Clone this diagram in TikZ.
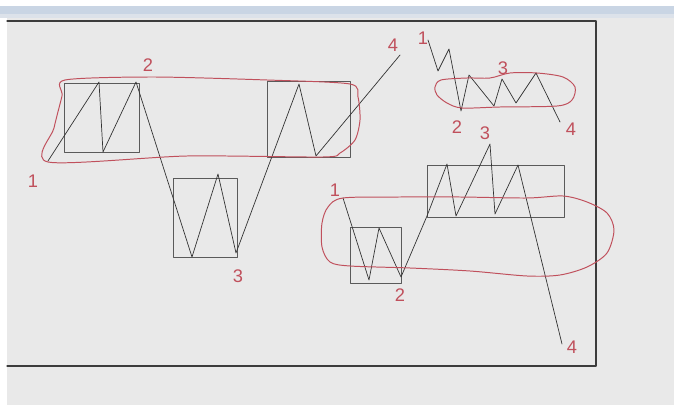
\documentclass[tikz,border=0pt]{standalone}
\usepackage{fontspec}
\setmainfont{Liberation Sans}
\begin{document}
\begin{tikzpicture}[x=0.25mm, y=-0.25mm, line cap=round, line join=round]
\definecolor{scrcanvas}{HTML}{E9E9E9}
\definecolor{scrbar}{HTML}{C9D5E4}
\definecolor{scrbarlight}{HTML}{DCE2EA}
\definecolor{scrframe}{HTML}{3C3C3C}
\definecolor{skbox}{HTML}{5A5A5A}
\definecolor{skwave}{HTML}{333333}
\definecolor{skred}{HTML}{C0505C}
\tikzset{
  wave/.style={skwave, line width=0.5pt},
  loopline/.style={skred, line width=0.7pt},
  hand/.style={skred, font=\fontsize{13}{13}\selectfont, inner sep=0pt}
}
\useasboundingbox (0,0) rectangle (674,405);
% ---- window background and canvas frame ----
\fill[white] (0,0) rectangle (674,405);
\fill[scrbar] (0,6) rectangle (674,14);
\fill[scrbarlight] (0,14) rectangle (674,18);
\fill[scrcanvas] (7,18) rectangle (674,405);
\draw[scrframe, line width=0.9pt] (7,21) -- (596,21) -- (596,366) -- (7,366);
% ---- boxes ----
\foreach \l/\t/\r/\b in {64/83/139/152, 173/178/237/257, 267/81/350/157, 350/227/401/283, 427/165/564/217}
  \draw[skbox, line width=0.6pt] (\l,\t) rectangle (\r,\b);
% ---- price waves ----
\draw[wave] (48,161) -- (99,82) -- (103,152) -- (136,82) -- (192,257) -- (218,174) -- (236,253) -- (299,84) -- (316,156) -- (400,55);
\draw[wave] (428,40) -- (438,71) -- (449,49) -- (461,111) -- (469,75) -- (494,106) -- (502,79) -- (516,103) -- (536,73) -- (560,122);
\draw[wave] (343,198) -- (369,280) -- (379,228) -- (401,277) -- (427,216) -- (447,164) -- (456,216) -- (490,144) -- (495,214) -- (518,165) -- (562,344);
% ---- hand drawn loops ----
\draw[loopline] plot[smooth cycle, tension=0.45] coordinates {(48,162) (54,128) (62,96) (65,80) (153,77) (267,80) (350,84) (358,97) (360,120) (355,140) (340,153) (323,157) (187,156)};
\draw[loopline] plot[smooth cycle, tension=0.5] coordinates {(435,87) (441,80) (467,78) (490,78) (510,73) (537,73) (563,77) (575,87) (572,100) (557,106) (500,107) (462,108) (447,103) (437,95)};
\draw[loopline] plot[smooth cycle, tension=0.5] coordinates {(343,198) (400,197) (460,197) (527,198) (563,196) (587,202) (607,213) (614,230) (607,253) (587,267) (560,275) (527,276) (470,271) (410,268) (350,266) (330,262) (322,247) (322,223) (328,207)};
% ---- wave numbers ----
\foreach \x/\y/\t/\n in {33/181/1/leftOne, 148/65/2/leftTwo, 238/276/3/leftThree, 393/45/4/leftFour,
    423/38/1/smallOne, 457/127/2/smallTwo, 503/68/3/smallThree, 571/129/4/smallFour,
    335/190/1/lowOne, 400/295/2/lowTwo, 485/133/3/lowThree, 572/347/4/lowFour}
  \node[hand] (\n) at (\x,\y) {\t};
\end{tikzpicture}
\end{document}
